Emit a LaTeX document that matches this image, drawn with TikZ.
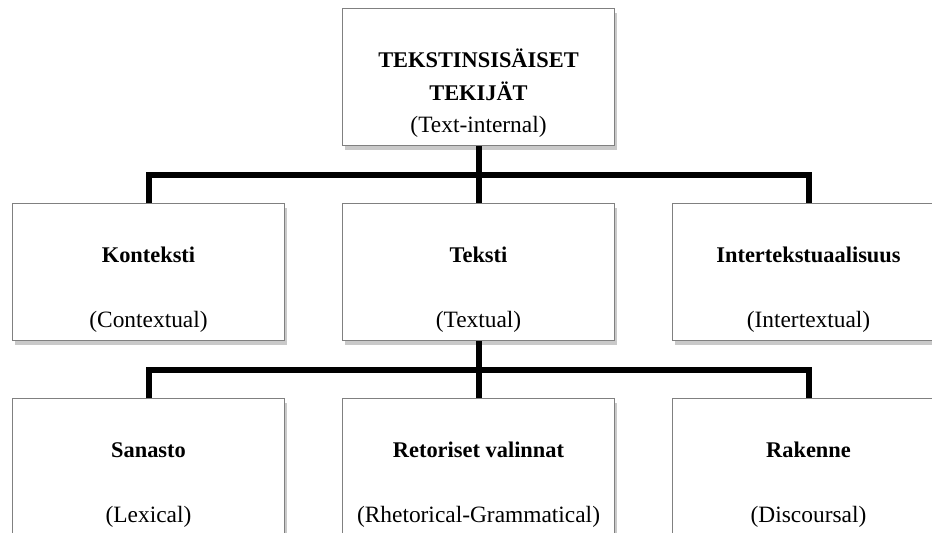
\documentclass[tikz,border=0pt]{standalone}
\usepackage{fontspec}
\setmainfont{Liberation Serif}
\usetikzlibrary{positioning,shadows}
\tikzset{
	box/.style={
		rectangle,
		draw=black!50,
		line width=0.5pt,
		fill=white,
		minimum width=136pt,
		minimum height=68.5pt,
		inner sep=0pt,
		drop shadow={shadow xshift=1pt, shadow yshift=-2pt, opacity=0.3, fill=black!70}
	},
	boxhead/.style={
		font=\fontsize{11.2}{13}\selectfont\bfseries,
		anchor=base,
		inner sep=0pt
	},
	boxsub/.style={
		font=\fontsize{11.7}{14}\selectfont,
		anchor=base,
		inner sep=0pt
	},
	tree/.style={
		line width=3pt,
		draw=black
	}
}
\begin{document}
\begin{tikzpicture}[node distance=28.5pt and 28.5pt]
	\useasboundingbox (0,0) rectangle (466pt,-266.5pt);
	
	%--------------------
	% Top level
	%--------------------
	\node[box] (internal) at (239.25pt,-38.75pt) {};
	\node[boxhead] (internalhead) at ([yshift=-29.5pt]internal.north) {TEKSTINSISÄISET};
	\node[boxhead] (internalhead2) at ([yshift=-46pt]internal.north) {TEKIJÄT};
	\node[boxsub] (internalsub) at ([yshift=-62pt]internal.north) {(Text-internal)};
	
	%--------------------
	% Second level
	%--------------------
	\node[box, below=of internal] (teksti) {};
	\node[box, left=of teksti]    (konteksti) {};
	\node[box, right=of teksti]   (inter) {};
	
	\node[boxhead] (kontekstihead) at ([yshift=-29.5pt]konteksti.north) {Konteksti};
	\node[boxsub]  (kontekstisub)  at ([yshift=-62pt]konteksti.north) {(Contextual)};
	\node[boxhead] (tekstihead) at ([yshift=-29.5pt]teksti.north) {Teksti};
	\node[boxsub]  (tekstisub)  at ([yshift=-62pt]teksti.north) {(Textual)};
	\node[boxhead] (interhead) at ([yshift=-29.5pt]inter.north) {Intertekstuaalisuus};
	\node[boxsub]  (intersub)  at ([yshift=-62pt]inter.north) {(Intertextual)};
	
	%--------------------
	% Third level
	%--------------------
	\node[box, below=of teksti]    (retoriset) {};
	\node[box, left=of retoriset]  (sanasto) {};
	\node[box, right=of retoriset] (rakenne) {};
	
	\node[boxhead] (sanastohead) at ([yshift=-29.5pt]sanasto.north) {Sanasto};
	\node[boxsub]  (sanastosub)  at ([yshift=-62pt]sanasto.north) {(Lexical)};
	\node[boxhead] (retorisethead) at ([yshift=-29.5pt]retoriset.north) {Retoriset valinnat};
	\node[boxsub]  (retorisetsub)  at ([yshift=-62pt]retoriset.north) {(Rhetorical-Grammatical)};
	\node[boxhead] (rakennehead) at ([yshift=-29.5pt]rakenne.north) {Rakenne};
	\node[boxsub]  (rakennesub)  at ([yshift=-62pt]rakenne.north) {(Discoursal)};
	
	%--------------------
	% Connections
	%--------------------
	\draw[tree] (internal.south) -- (teksti.north);
	\draw[tree] (konteksti.north) -- ++(0,14.25pt) -| (inter.north);
	
	\draw[tree] (teksti.south) -- (retoriset.north);
	\draw[tree] (sanasto.north) -- ++(0,14.25pt) -| (rakenne.north);
	
\end{tikzpicture}
\end{document}
